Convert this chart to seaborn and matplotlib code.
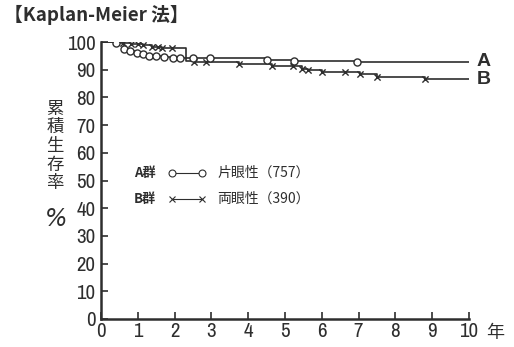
import numpy as np
import pandas as pd
import matplotlib
matplotlib.use("Agg")
import matplotlib.pyplot as plt
import seaborn as sns
from matplotlib.lines import Line2D

# Kaplan-Meier step curves (years, cumulative survival %)
a_time = [0, 0.42, 0.62, 0.8, 0.98, 1.15, 1.3, 1.5, 1.7, 1.95, 4.5, 5.25, 6.95, 10]
a_surv = [100, 99.6, 97.6, 96.8, 96.2, 95.7, 95.1, 94.8, 94.5, 94.1, 93.6, 93.2, 92.9, 92.9]
a_marks = [0.42, 0.62, 0.8, 0.98, 1.15, 1.3, 1.5, 1.7, 1.95, 2.15, 2.5, 2.95, 4.5, 5.25, 6.95]

b_time = [0, 0.6, 0.82, 1.13, 1.38, 1.67, 2.3, 2.54, 3.75, 4.65, 5.45, 5.62, 6.0, 6.64, 7.04, 7.5, 8.8, 10]
b_surv = [100, 99.6, 99.2, 98.8, 98.3, 97.7, 93.0, 92.6, 92.1, 91.2, 90.3, 89.9, 89.3, 89.0, 88.3, 87.5, 86.7, 86.5]
b_marks = [0.6, 0.82, 1.0, 1.13, 1.38, 1.55, 1.67, 1.92, 2.54, 2.85, 3.75, 4.65, 5.23, 5.45,
           5.62, 6.0, 6.64, 7.04, 7.5, 8.8]

x_ticks = list(range(0, 11))
y_ticks = list(range(0, 101, 10))

INK = "#2e2e2e"
NUM_FONT = ["Archivo Narrow", "DejaVu Sans"]
JP_FONT = ["Noto Sans CJK JP", "DejaVu Sans"]

sns.set_style("ticks")
plt.rcParams["font.family"] = NUM_FONT


def surv_at(times, survs, t):
    idx = np.searchsorted(times, t, side="right") - 1
    return survs[idx]


curve_a = pd.DataFrame({"t": a_time, "s": a_surv})
curve_b = pd.DataFrame({"t": b_time, "s": b_surv})
mark_a = pd.DataFrame({"t": a_marks, "s": [surv_at(a_time, a_surv, t) for t in a_marks]})
mark_b = pd.DataFrame({"t": b_marks, "s": [surv_at(b_time, b_surv, t) for t in b_marks]})

fig = plt.figure(figsize=(5.14, 3.47), dpi=100)
ax = fig.add_axes([101 / 514, 1 - 319 / 347, 368 / 514, 277 / 347])

sns.lineplot(data=curve_b, x="t", y="s", ax=ax, color=INK, lw=1.2,
             drawstyle="steps-post", estimator=None)
sns.lineplot(data=curve_a, x="t", y="s", ax=ax, color=INK, lw=1.2,
             drawstyle="steps-post", estimator=None)
sns.scatterplot(data=mark_b, x="t", y="s", ax=ax, marker="x", s=20,
                color=INK, linewidth=1.0, zorder=4)
sns.scatterplot(data=mark_a, x="t", y="s", ax=ax, marker="o", s=26,
                facecolor="white", edgecolor=INK, linewidth=1.0, zorder=5)

ax.set_xlim(0, 10)
ax.set_ylim(0, 100)
ax.set_xticks(x_ticks)
ax.set_yticks(y_ticks)
ax.set_xticklabels([str(v) for v in x_ticks], fontsize=15, color=INK, fontweight="medium")
ax.set_yticklabels([str(v) for v in y_ticks], fontsize=15, color=INK, fontweight="medium")
ax.tick_params(direction="in", length=5, width=1.2, colors=INK, pad=2)
ax.tick_params(axis="y", pad=4)
ax.set_xlabel("")
ax.set_ylabel("")
for side in ("top", "right"):
    ax.spines[side].set_visible(False)
for side in ("left", "bottom"):
    ax.spines[side].set_linewidth(1.8)
    ax.spines[side].set_color(INK)
ax.set_facecolor("white")

# curve end labels
ax.text(10.2, a_surv[-1], "A", fontsize=14, fontweight="bold", color=INK,
        va="center", ha="left", family=["Liberation Sans", "DejaVu Sans"], clip_on=False)
ax.text(10.2, b_surv[-1], "B", fontsize=14, fontweight="bold", color=INK,
        va="center", ha="left", family=["Liberation Sans", "DejaVu Sans"], clip_on=False)

# year unit after x tick labels
fig.text(495 / 514, 1 - 333 / 347, "年", fontsize=13, color=INK, family=JP_FONT,
         ha="center", va="center")

# title
fig.text(4 / 514, 1 - 15 / 347, "【Kaplan-Meier 法】", fontsize=13.5, fontweight="bold",
         color=INK, family=JP_FONT, ha="left", va="center")

# stacked vertical y label
fig.text(55 / 514, 1 - 146 / 347, "累\n積\n生\n存\n率", fontsize=12.5, color=INK,
         family=JP_FONT, ha="center", va="center", linespacing=1.05)
fig.text(56 / 514, 1 - 219 / 347, "%", fontsize=17, color=INK, style="italic",
         family=["DejaVu Sans"], ha="center", va="center")

# legend block
rows = [("A群", "o", "片眼性（757）", 173), ("B群", "x", "両眼性（390）", 199)]
for grp, mk, desc, ypx in rows:
    yf = 1 - ypx / 347
    fig.text(134 / 514, yf, grp, fontsize=9.5, fontweight="bold", color=INK,
             family=JP_FONT, ha="left", va="center")
    fig.add_artist(Line2D([172 / 514, 202 / 514], [yf, yf], transform=fig.transFigure,
                          color=INK, lw=0.8, marker=mk, markersize=5,
                          markerfacecolor="white", markeredgecolor=INK, markeredgewidth=0.8))
    fig.text(217 / 514, yf, desc, fontsize=10, color=INK, family=JP_FONT,
             ha="left", va="center")

fig.savefig("out.png", dpi=100, facecolor="white")
